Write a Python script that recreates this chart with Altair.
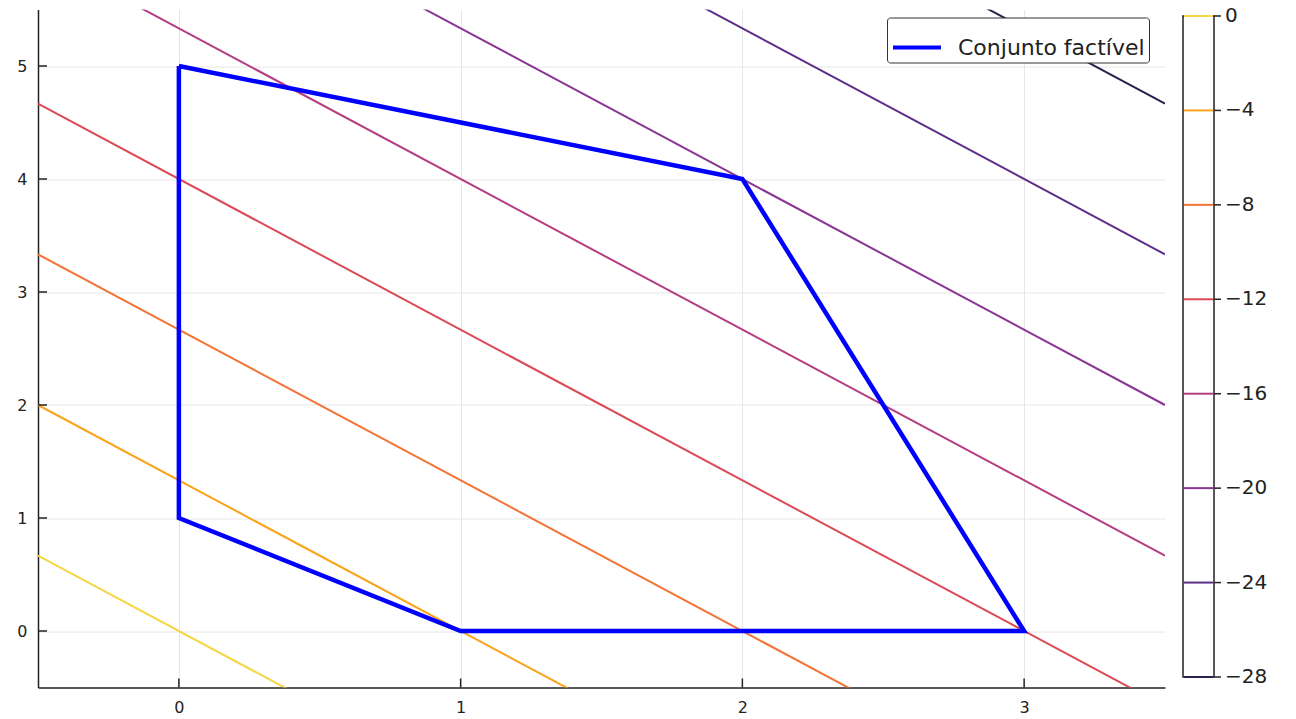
import altair as alt
import pandas as pd

# Objective f(x, y) = -(4x + 3y); contour levels of f
obj_coef = [4, 3]
levels = [0, -4, -8, -12, -16, -20, -24, -28]
level_colors = ["#f5d646", "#f9a41b", "#f37335", "#da4b56",
                "#b43e7f", "#8a3593", "#5e2d8a", "#27214b"]
cbar_labels = ["0", "−4", "−8", "−12", "−16", "−20", "−24", "−28"]

# Feasible region (closed polygon)
poly_x = [0, 2, 3, 1, 0, 0]
poly_y = [5, 4, 0, 0, 1, 5]
poly_name = "Conjunto factível"

x_ticks = [0, 1, 2, 3]
y_ticks = [0, 1, 2, 3, 4, 5]
x_dom = [-0.5, 3.5]
y_dom = [-0.5, 5.5]

W, H = 1127, 678
TICK = 9
FONT = "DejaVu Sans"
INK = "#222222"

# level lines 4x + 3y = -c, drawn across the x-range and clipped to the view
rows = []
for c in levels:
    for x in x_dom:
        rows.append({"level": c, "x": x,
                     "y": (-c - obj_coef[0] * x) / obj_coef[1]})
contour_df = pd.DataFrame(rows)

poly_df = pd.DataFrame({"x": poly_x, "y": poly_y,
                        "order": list(range(len(poly_x))),
                        "name": [poly_name] * len(poly_x)})

xs = alt.Scale(domain=x_dom, nice=False, zero=False)
ys = alt.Scale(domain=y_dom, nice=False, zero=False)

axis_style = dict(grid=True, gridColor="#e6e6e6", gridWidth=1, ticks=False,
                  domainColor=INK, domainWidth=1.5, labelFontSize=16,
                  labelFont=FONT, labelColor=INK, title=None, format="d")
x_axis = alt.Axis(values=x_ticks, labelPadding=12, **axis_style)
y_axis = alt.Axis(values=y_ticks, labelPadding=11, **axis_style)

contours = alt.Chart(contour_df).mark_line(clip=True, strokeWidth=2).encode(
    x=alt.X("x:Q", scale=xs, axis=x_axis),
    y=alt.Y("y:Q", scale=ys, axis=y_axis),
    detail="level:N",
    stroke=alt.Stroke("level:N", scale=alt.Scale(domain=levels, range=level_colors),
                      legend=None),
)

polygon = alt.Chart(poly_df).mark_line(strokeWidth=4.5, strokeJoin="miter").encode(
    x=alt.X("x:Q", scale=xs, axis=x_axis),
    y=alt.Y("y:Q", scale=ys, axis=y_axis),
    order="order:Q",
    color=alt.Color("name:N", scale=alt.Scale(domain=[poly_name], range=["#0000ff"]),
                    legend=alt.Legend(title=None, orient="none", legendX=849, legendY=8,
                                      symbolType="stroke", symbolStrokeWidth=4,
                                      symbolSize=2300, labelFontSize=22,
                                      labelFont=FONT, labelColor=INK, labelLimit=400,
                                      labelOffset=15, padding=4,
                                      strokeColor="#333333", fillColor="white",
                                      cornerRadius=3)),
)

# inward tick marks: short segments from each axis line into the plot
x_len = TICK * (y_dom[1] - y_dom[0]) / H
y_len = TICK * (x_dom[1] - x_dom[0]) / W
xtick_df = pd.DataFrame({"t": x_ticks, "a": [y_dom[0]] * len(x_ticks),
                         "b": [y_dom[0] + x_len] * len(x_ticks)})
ytick_df = pd.DataFrame({"t": y_ticks, "a": [x_dom[0]] * len(y_ticks),
                         "b": [x_dom[0] + y_len] * len(y_ticks)})
x_in_ticks = alt.Chart(xtick_df).mark_rule(color=INK, strokeWidth=1.5).encode(
    x=alt.X("t:Q", scale=xs, axis=x_axis),
    y=alt.Y("a:Q", scale=ys, axis=y_axis), y2="b:Q")
y_in_ticks = alt.Chart(ytick_df).mark_rule(color=INK, strokeWidth=1.5).encode(
    y=alt.Y("t:Q", scale=ys, axis=y_axis),
    x=alt.X("a:Q", scale=xs, axis=x_axis), x2="b:Q")

main = alt.layer(contours, polygon, x_in_ticks, y_in_ticks).properties(width=W, height=H)

# colorbar
CB_W = 31
cb_scale = alt.Scale(domain=[-28.445, 0.275], nice=False, zero=False)
cb_df = pd.DataFrame({"level": levels, "label": cbar_labels})
box_df = pd.DataFrame({"lo": [min(levels)], "hi": [max(levels)]})

box = alt.Chart(box_df).mark_rect(fill="white", stroke=INK, strokeWidth=1.5).encode(
    x=alt.value(0), x2=alt.value(CB_W),
    y=alt.Y("lo:Q", scale=cb_scale, axis=None), y2="hi:Q")
cb_lines = alt.Chart(cb_df).mark_rule(strokeWidth=2).encode(
    y=alt.Y("level:Q", scale=cb_scale, axis=None),
    x=alt.value(1), x2=alt.value(CB_W - 1),
    stroke=alt.Stroke("level:N", scale=alt.Scale(domain=levels, range=level_colors),
                      legend=None))
cb_ticks = alt.Chart(cb_df).mark_rule(color=INK, strokeWidth=1.5).encode(
    y=alt.Y("level:Q", scale=cb_scale, axis=None),
    x=alt.value(CB_W), x2=alt.value(CB_W + 7))
cb_text = alt.Chart(cb_df).mark_text(align="left", baseline="middle", fontSize=20,
                                     font=FONT, color=INK).encode(
    y=alt.Y("level:Q", scale=cb_scale, axis=None),
    x=alt.value(CB_W + 11), text="label:N")

cbar = alt.layer(box, cb_lines, cb_ticks, cb_text).properties(width=CB_W, height=H)

chart = alt.hconcat(main, cbar, spacing=17).properties(
    padding={"left": 16, "top": 5.5, "right": 5, "bottom": 5},
    background="white",
).configure_view(stroke=None)

chart.save("out.html", embed_options={"renderer": "svg", "actions": False})
